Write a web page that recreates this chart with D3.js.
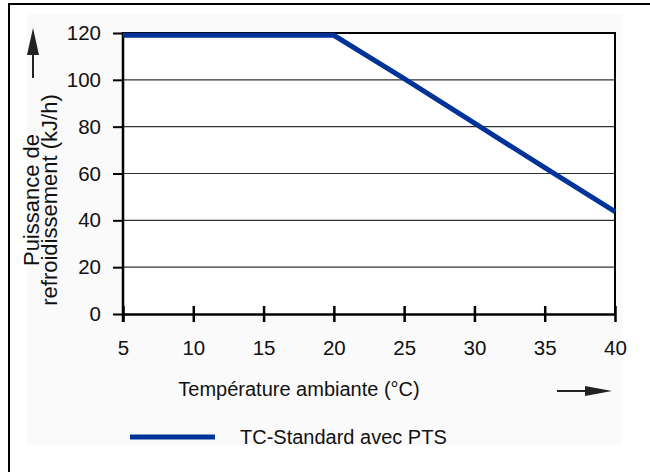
<!DOCTYPE html>
<html>
<head>
<meta charset="utf-8">
<script src="https://cdn.jsdelivr.net/npm/d3@7"></script>
<style>
  body { margin: 0; background: #fff; }
  svg { display: block; font-family: "Liberation Sans", Arial, sans-serif; }
</style>
</head>
<body>
<div id="chart"></div>
<script>
// data
var temperature = [5, 20, 25, 30, 35, 40];
var puissance = [119, 119, 100.5, 81.5, 62.5, 43.7];
var xTicks = [5, 10, 15, 20, 25, 30, 35, 40];
var yTicks = [0, 20, 40, 60, 80, 100, 120];
var seriesName = "TC-Standard avec PTS";

var W = 650, H = 472;
var margin = {top: 33, right: 35, bottom: 158, left: 123},
    width = W - margin.left - margin.right,
    height = H - margin.top - margin.bottom;

var svg = d3.select("#chart").append("svg")
    .attr("width", W)
    .attr("height", H);

// outer frame (runs off the picture right and bottom)
svg.append("rect")
    .attr("x", 27).attr("y", 14)
    .attr("width", 595).attr("height", 431)
    .attr("fill", "#fafafa");
svg.append("rect")
    .attr("x", 9).attr("y", 4)
    .attr("width", 660).attr("height", 500)
    .attr("fill", "none")
    .attr("stroke", "#000")
    .attr("stroke-width", 2);

var g = svg.append("g")
    .attr("transform", "translate(" + margin.left + "," + margin.top + ")");

var xScale = d3.scaleLinear().domain([5, 40]).range([0, width]),
    yScale = d3.scaleLinear().domain([0, 120]).range([height, 0]);

g.append("rect")
    .attr("width", width).attr("height", height)
    .attr("fill", "#fff");

// horizontal grid
g.append("g")
    .selectAll("line")
    .data(yTicks.filter(function(d){ return d > 0 && d < 120; }))
    .enter().append("line")
    .attr("x1", 0).attr("x2", width)
    .attr("y1", function(d){ return yScale(d); })
    .attr("y2", function(d){ return yScale(d); })
    .attr("stroke", "#333")
    .attr("stroke-width", 1.2);

// top and right frame of the plot
g.append("path")
    .attr("d", "M0," + yScale(120) + "H" + width + "V" + height)
    .attr("fill", "none")
    .attr("stroke", "#000")
    .attr("stroke-width", 2);

// y axis
var yAxis = g.append("g")
    .attr("class", "y axis")
    .call(d3.axisLeft(yScale).tickValues(yTicks).tickSize(10).tickPadding(12));
yAxis.select(".domain").remove();
yAxis.selectAll(".tick line").attr("stroke", "#000").attr("stroke-width", 2);
yAxis.selectAll("text")
    .attr("font-size", "20.5px")
    .attr("fill", "#111")
    .attr("font-family", "Liberation Sans, Arial, sans-serif");
g.append("line")
    .attr("x1", 0).attr("x2", 0)
    .attr("y1", yScale(120) - 1).attr("y2", height + 8)
    .attr("stroke", "#000").attr("stroke-width", 2.5);

// x axis
var xAxis = g.append("g")
    .attr("class", "x axis")
    .attr("transform", "translate(0," + height + ")")
    .call(d3.axisBottom(xScale).tickValues(xTicks).tickSizeInner(8).tickSizeOuter(0).tickPadding(18));
xAxis.select(".domain").attr("stroke", "#000").attr("stroke-width", 2.5);
xAxis.selectAll(".tick line")
    .attr("y1", -8).attr("y2", 8)
    .attr("stroke", "#000").attr("stroke-width", 2.5);
xAxis.selectAll("text")
    .attr("font-size", "20.5px")
    .attr("fill", "#111")
    .attr("font-family", "Liberation Sans, Arial, sans-serif");

// series
var line = d3.line()
    .x(function(d, i){ return xScale(temperature[i]); })
    .y(function(d){ return yScale(d); });
g.append("path")
    .datum(puissance)
    .attr("d", line)
    .attr("fill", "none")
    .attr("stroke", "#003399")
    .attr("stroke-width", 5)
    .attr("stroke-linejoin", "miter");

// y title
var yTitle = svg.append("text")
    .attr("transform", "translate(39,200) rotate(-90)")
    .attr("text-anchor", "middle")
    .attr("font-size", "22px")
    .attr("fill", "#111");
yTitle.append("tspan").attr("x", 0).attr("y", 0).text("Puissance de");
yTitle.append("tspan").attr("x", 0).attr("y", 18).text("refroidissement (kJ/h)");

// up arrow
svg.append("line")
    .attr("x1", 33).attr("x2", 33).attr("y1", 78).attr("y2", 50)
    .attr("stroke", "#222").attr("stroke-width", 2);
svg.append("path")
    .attr("d", "M33,28 L39,55 L27,55 Z")
    .attr("fill", "#222");

// x title
svg.append("text")
    .attr("x", 299).attr("y", 396)
    .attr("text-anchor", "middle")
    .attr("font-size", "20px")
    .attr("fill", "#111")
    .text("Température ambiante (°C)");

// right arrow
svg.append("line")
    .attr("x1", 557).attr("x2", 590).attr("y1", 391).attr("y2", 391)
    .attr("stroke", "#222").attr("stroke-width", 2);
svg.append("path")
    .attr("d", "M612,391 L585,386 L585,396 Z")
    .attr("fill", "#222");

// legend
svg.append("line")
    .attr("x1", 130).attr("x2", 215).attr("y1", 437).attr("y2", 437)
    .attr("stroke", "#003399").attr("stroke-width", 5);
svg.append("text")
    .attr("x", 240).attr("y", 444)
    .attr("font-size", "20px")
    .attr("fill", "#111")
    .text(seriesName);
</script>
</body>
</html>
